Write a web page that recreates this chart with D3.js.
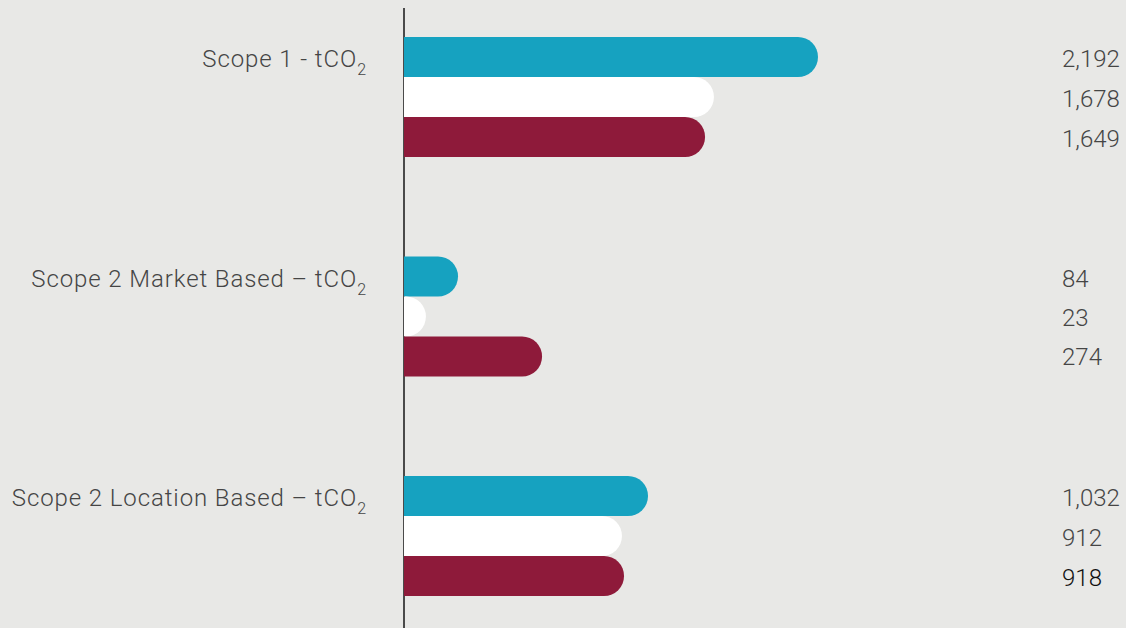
<!DOCTYPE html>
<html>
<head>
<meta charset="utf-8">
<script src="https://cdn.jsdelivr.net/npm/d3@7"></script>
<style>
  body { margin: 0; background: #e8e8e6; }
  svg { display: block; }
  text { font-family: Roboto, "Liberation Sans", sans-serif; font-weight: 300; fill: #454545; }
</style>
</head>
<body>
<svg width="1126" height="628"></svg>
<script>
// categories and the three series per category
const categories = ["Scope 1 - tCO", "Scope 2 Market Based \u2013 tCO", "Scope 2 Location Based \u2013 tCO"]
const series = ["a", "b", "c"]
const seriesColors = ["#16a2c0", "#ffffff", "#8e1a3a"]

// printed values on the right
const values = [
    [2192, 1678, 1649],
    [84, 23, 274],
    [1032, 912, 918]
]

// bar extents as they are drawn in the source (not to scale with the printed values)
const barLengths = [
    [2192, 1641, 1594],
    [286, 116, 731],
    [1292, 1154, 1165]
]

const svg = d3.select("svg")

const x = d3.scaleLinear().domain([0, 2192]).range([404, 818])
const y = d3.scaleBand().domain(categories).range([37, 37 + 3 * 219.5])
const ySub = d3.scaleBand().domain(series).range([0, 120])
const fmt = d3.format(",")

// axis line
svg.append("line")
    .attr("x1", 404).attr("x2", 404)
    .attr("y1", 8).attr("y2", 628)
    .attr("stroke", "#4a4a4a").attr("stroke-width", 2)

function barPath(x0, x1, y0, h) {
    const r = h / 2
    const xe = Math.max(x0, x1 - r)
    return `M${x0},${y0}H${xe}A${r},${r} 0 0 1 ${xe},${y0 + h}H${x0}Z`
}

const groups = svg.selectAll("g.cat")
    .data(categories)
    .enter()
    .append("g")
    .attr("class", "cat")
    .attr("transform", d => `translate(0,${y(d)})`)

groups.each(function(cat, i) {
    const g = d3.select(this)
    g.selectAll("path")
        .data(series)
        .enter()
        .append("path")
        .attr("d", (s, j) => barPath(x(0), x(barLengths[i][j]), ySub(s), ySub.bandwidth()))
        .attr("fill", (s, j) => seriesColors[j])

    g.selectAll("text.val")
        .data(series)
        .enter()
        .append("text")
        .attr("class", "val")
        .attr("x", 1062)
        .attr("y", (s, j) => ySub(s) + ySub.bandwidth() / 2 + 10 - (i === 1 ? j : 0))
        .style("font-size", "24px")
        .style("fill", (s, j) => (i === 2 && j === 2) ? "#111" : null)
        .text((s, j) => fmt(values[i][j]))

    const lab = g.append("text")
        .attr("x", 366)
        .attr("y", 30)
        .attr("text-anchor", "end")
        .style("font-size", "24px")
    lab.append("tspan")
        .style("letter-spacing", "0.9px")
        .text(cat)
    lab.append("tspan")
        .attr("dy", 8)
        .attr("dx", 0)
        .style("font-size", "16px")
        .text("2")
})
</script>
</body>
</html>
